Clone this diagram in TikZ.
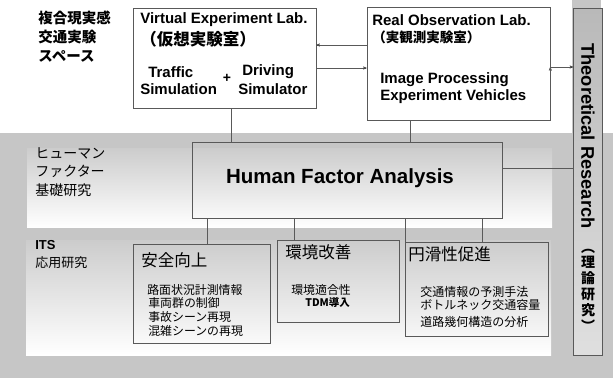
\documentclass[tikz,border=0pt]{standalone}
\usepackage{fontspec}
\setmainfont{Liberation Sans}
\newfontfamily\jp{Noto Sans CJK JP}
\usetikzlibrary{arrows}

\begin{document}
\begin{tikzpicture}[x=1pt,y=-1pt,->,>=stealth',semithick,
    box/.style={draw=black!65,line width=0.6pt,inner sep=0pt},
    txt/.style={anchor=west,inner sep=0pt},
    en/.style={txt,font=\bfseries\fontsize{15}{17}\selectfont},
    ja/.style={txt,font=\jp\bfseries\fontsize{15}{17}\selectfont},
    item/.style={txt,font=\jp\fontsize{11.9}{13}\selectfont},
    title/.style={txt,font=\jp\fontsize{16.5}{18}\selectfont}]
            \useasboundingbox (0,0) rectangle (613,378);
            % background bands
            \fill[gray!45] (0,0) rectangle (613,378);
            \fill[white] (0,0) rectangle (572,133);
            \fill[white] (0,0) rectangle (27,45);
            \fill[white] (601,0) rectangle (613,133);
            \shade[top color=gray!40,middle color=gray!18,bottom color=white] (27,148) rectangle (552,227);
            \shade[top color=gray!40,middle color=white,bottom color=white] (26,240) rectangle (551,355);
            % theoretical research strip
            \node[box,shade,top color=gray!55,bottom color=gray!25,minimum width=29pt,minimum height=347pt](theory)at(588,181.5){};
            \node[inner sep=0pt,rotate=-90,font=\bfseries\fontsize{18.3}{20}\selectfont](theoryen)at(588,136){Theoretical Research};
            \node[inner sep=0pt,align=center,font=\jp\bfseries\fontsize{14}{15.8}\selectfont](theoryja)at(588,290){︵\\理\\論\\研\\究\\︶};
            % side labels
            \node[anchor=north west,inner sep=0pt,align=left,font=\jp\bfseries\fontsize{14.5}{19}\selectfont](mixed)at(38,10.5){複合現実感\\交通実験\\スペース};
            \node[anchor=north west,inner sep=0pt,align=left,font=\jp\fontsize{14}{18.5}\selectfont](humanlbl)at(35,147){ヒューマン\\ファクター\\基礎研究};
            \node[en,font=\bfseries\fontsize{13}{14}\selectfont](its)at(35,245){ITS};
            \node[txt,font=\jp\fontsize{13}{15}\selectfont](itslbl)at(35,263){応用研究};
            % labs
            \node[box,minimum width=183pt,minimum height=100pt](virtual)at(224.5,58){};
            \node[en](virtualA)at(140,20){Virtual Experiment Lab.};
            \node[ja,font=\jp\bfseries\fontsize{16.5}{18}\selectfont](virtualB)at(140,39){（仮想実験室）};
            \node[en](traffic)at(148,72){Traffic};
            \node[en](trafficB)at(140,89){Simulation};
            \node[inner sep=0pt,font=\bfseries\fontsize{14}{16}\selectfont](plus)at(227,78){+};
            \node[en](driving)at(242,72){Driving};
            \node[en](drivingB)at(238,89){Simulator};
            \node[box,minimum width=183pt,minimum height=113pt](real)at(458.5,63.5){};
            \node[en](realA)at(372,20){Real Observation Lab.};
            \node[ja,font=\jp\bfseries\fontsize{13.5}{15}\selectfont](realB)at(372,37){（実観測実験室）};
            \node[en](image)at(380,80){Image Processing};
            \node[en](imageB)at(380,97){Experiment Vehicles};
            % human factor
            \node[box,minimum width=310pt,minimum height=76pt](hf)at(347,180){};
            \node[inner sep=0pt,font=\bfseries\fontsize{20.5}{22}\selectfont](hftext)at(340,178){Human Factor Analysis};
            % its boxes
            \node[box,minimum width=137pt,minimum height=99pt](safety)at(201.5,293.5){};
            \node[title](safetyT)at(141,260){安全向上};
            \node[item](safety1)at(147,290){路面状況計測情報};
            \node[item](safety2)at(148,303){車両群の制御};
            \node[item](safety3)at(148,317){事故シーン再現};
            \node[item](safety4)at(148,331){混雑シーンの再現};
            \node[box,minimum width=122pt,minimum height=82pt](env)at(338,281){};
            \node[title](envT)at(285,252){環境改善};
            \node[item](env1)at(291,290){環境適合性};
            \node[item,font=\jp\bfseries\fontsize{10.5}{12}\selectfont](env2)at(305,302){TDM導入};
            \node[box,minimum width=143pt,minimum height=94pt](smooth)at(476.5,289){};
            \node[title](smoothT)at(408,254){円滑性促進};
            \node[item,font=\jp\fontsize{12}{13}\selectfont](smooth1)at(420,292){交通情報の予測手法};
            \node[item,font=\jp\fontsize{12}{13}\selectfont](smooth2)at(420,305){ボトルネック交通容量};
            \node[item,font=\jp\fontsize{12}{13}\selectfont](smooth3)at(420,322){道路幾何構造の分析};
            % connectors
            \path[draw=black!65,thin]
            ([yshift=13pt]virtual.east -| real.west) edge ([yshift=13pt]virtual.east)
            ([yshift=-10pt]virtual.east) edge ([yshift=-10pt]virtual.east -| real.west)
            ([yshift=-3.5pt]real.east) edge ([yshift=-3.5pt]real.east -| theory.west);
            \path[draw=black!65,thin,-]
            ([xshift=98pt]virtual.south west) edge ([xshift=98pt]virtual.south west |- hf.north)
            ([xshift=43pt]real.south west) edge ([xshift=43pt]real.south west |- hf.north)
            ([yshift=12pt]hf.east) edge ([yshift=12pt]hf.east -| theory.west)
            ([xshift=15pt]hf.south west) edge ([xshift=15pt]hf.south west |- safety.north)
            ([xshift=102pt]hf.south west) edge ([xshift=102pt]hf.south west |- env.north)
            ([xshift=213pt]hf.south west) edge ([xshift=213pt]hf.south west |- smooth.north)
            ([xshift=290pt]hf.south west) edge ([xshift=290pt]hf.south west |- smooth.north);
        \end{tikzpicture}
\end{document}
